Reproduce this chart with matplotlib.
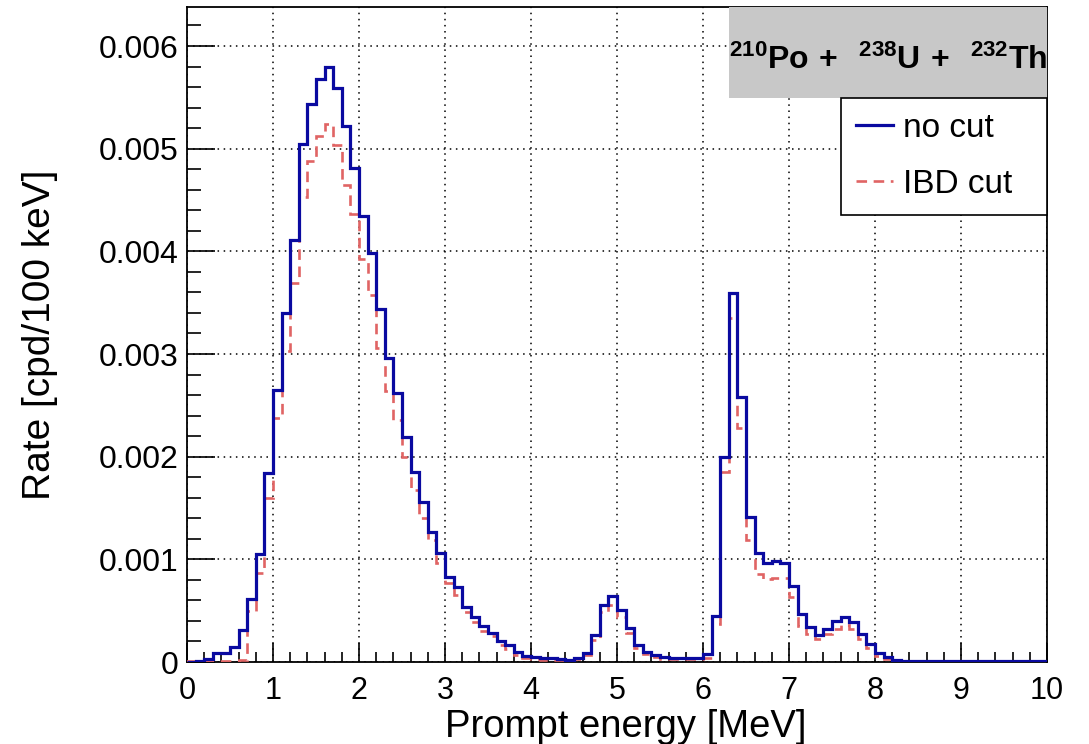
import numpy as np
import matplotlib
matplotlib.use('Agg')
import matplotlib.pyplot as plt
from matplotlib.patches import Rectangle
from matplotlib.ticker import MultipleLocator, FuncFormatter

plt.rcParams['font.family'] = ['Liberation Sans', 'DejaVu Sans']
plt.rcParams['mathtext.fontset'] = 'custom'
plt.rcParams['mathtext.rm'] = 'Liberation Sans'
plt.rcParams['mathtext.bf'] = 'Liberation Sans:bold'

# 100 bins of 100 keV from 0 to 10 MeV
e_min, e_max, n_bins = 0.0, 10.0, 100

no_cut = [
    0.0, 0.00001, 0.00003, 0.00009, 0.00009, 0.00015, 0.00031, 0.00061, 0.00105, 0.00184,
    0.00265, 0.00340, 0.00411, 0.00505, 0.00544, 0.00568, 0.00580, 0.00559, 0.00522, 0.00481,
    0.00434, 0.00398, 0.00344, 0.00296, 0.00262, 0.00219, 0.00185, 0.00156, 0.00127, 0.00106,
    0.00083, 0.00073, 0.00054, 0.00044, 0.00035, 0.00028, 0.00020, 0.00017, 0.00010, 0.00006,
    0.00005, 0.00004, 0.00004, 0.00003, 0.00002, 0.00004, 0.00009, 0.00026, 0.00056, 0.00064,
    0.00051, 0.00033, 0.00017, 0.00010, 0.00007, 0.00005, 0.00004, 0.00004, 0.00004, 0.00004,
    0.00008, 0.00045, 0.00200, 0.00359, 0.00258, 0.00141, 0.00106, 0.00096, 0.00098, 0.00096,
    0.00074, 0.00047, 0.00034, 0.00026, 0.00032, 0.00040, 0.00044, 0.00039, 0.00027, 0.00018,
    0.00009, 0.00005, 0.00002, 0.00001, 0.00001, 0.00001, 0.00001, 0.000005, 0.000005, 0.000005,
    0.000005, 0.000005, 0.000005, 0.000005, 0.000005, 0.000005, 0.000005, 0.000005, 0.000005, 0.000005,
]

ibd_cut = [
    0.00001, 0.00001, 0.00001, 0.00001, 0.00001, 0.00001, 0.00002, 0.00050, 0.00087, 0.00160,
    0.00238, 0.00303, 0.00369, 0.00453, 0.00488, 0.00512, 0.00524, 0.00504, 0.00465, 0.00436,
    0.00393, 0.00357, 0.00306, 0.00264, 0.00236, 0.00200, 0.00168, 0.00140, 0.00119, 0.00096,
    0.00077, 0.00065, 0.00049, 0.00039, 0.00030, 0.00025, 0.00017, 0.00013, 0.00007, 0.00004,
    0.00003, 0.00002, 0.00002, 0.00002, 0.00002, 0.00003, 0.00007, 0.00021, 0.00049, 0.00056,
    0.00044, 0.00028, 0.00014, 0.00008, 0.00005, 0.00003, 0.00003, 0.00003, 0.00003, 0.00003,
    0.00004, 0.00037, 0.00185, 0.00335, 0.00228, 0.00119, 0.00086, 0.00081, 0.00082, 0.00082,
    0.00063, 0.00035, 0.00027, 0.00022, 0.00027, 0.00032, 0.00036, 0.00032, 0.00022, 0.00014,
    0.00006, 0.00003, 0.00002, 0.00001, 0.00001, 0.00001, 0.00001, 0.00001, 0.00001, 0.00001,
    0.00001, 0.00001, 0.00001, 0.00001, 0.00001, 0.00001, 0.00001, 0.00001, 0.00001, 0.00001,
]

labels = ['no cut', 'IBD cut']
title = r'$\mathbf{^{210}Po\ {+}\ \ ^{238}U\ {+}\ \ ^{232}Th}$'

edges = np.linspace(e_min, e_max, n_bins + 1)

fig = plt.figure(figsize=(10.89, 7.44), dpi=100)
ax = fig.add_axes([0.1717, 0.1102, 0.7897, 0.8804])

ax.stairs(ibd_cut, edges, color='#e06464', lw=1.9, ls=(0, (4, 2.5)), label=labels[1], zorder=3)
ax.stairs(no_cut, edges, color='#0a0aa0', lw=2.3, label=labels[0], zorder=4)

ax.set_xlim(e_min, e_max)
ax.set_ylim(0, 0.00638)

ax.xaxis.set_major_locator(MultipleLocator(1))
ax.xaxis.set_minor_locator(MultipleLocator(0.2))
ax.yaxis.set_major_locator(MultipleLocator(0.001))
ax.yaxis.set_minor_locator(MultipleLocator(0.0002))
ax.yaxis.set_major_formatter(FuncFormatter(lambda v, p: f'{v:g}'))

ax.tick_params(axis='both', which='both', direction='in', width=1.2)
ax.tick_params(axis='x', which='major', length=14, pad=10, labelsize=22)
ax.tick_params(axis='x', which='minor', length=7)
ax.tick_params(axis='y', which='major', length=20, pad=6, labelsize=23)
ax.tick_params(axis='y', which='minor', length=10)

ax.grid(True, which='major', color='black', ls=(0, (1, 3)), lw=1.1)
ax.set_axisbelow(True)
for s in ax.spines.values():
    s.set_linewidth(1.3)

ax.set_xlabel('Prompt energy [MeV]', fontsize=27.5)
ax.set_ylabel('Rate [cpd/100 keV]', fontsize=28)
ax.xaxis.set_label_coords(0.51, -0.072)
ax.yaxis.set_label_coords(-0.150, 0.5)

# title box like ROOT's pave
ax.add_patch(Rectangle((0.63, 0.861), 0.37, 0.139, transform=ax.transAxes,
                       facecolor='#c8c8c8', edgecolor='none', zorder=5, clip_on=False))
ax.text(0.815, 0.905, title, transform=ax.transAxes, ha='center', va='baseline',
        fontsize=23, zorder=6)

h, l = ax.get_legend_handles_labels()
leg = ax.legend(h[::-1], l[::-1], loc='upper left', bbox_to_anchor=(0.761, 0.861, 0.239, 0.0),
                mode='expand', borderaxespad=0, fontsize=24, frameon=True, fancybox=False,
                edgecolor='black', framealpha=1, handlelength=1.1, handletextpad=0.3,
                labelspacing=0.75, borderpad=0.45)
leg.get_frame().set_linewidth(1.2)
leg.set_zorder(6)

fig.savefig('out.png', dpi=100)
